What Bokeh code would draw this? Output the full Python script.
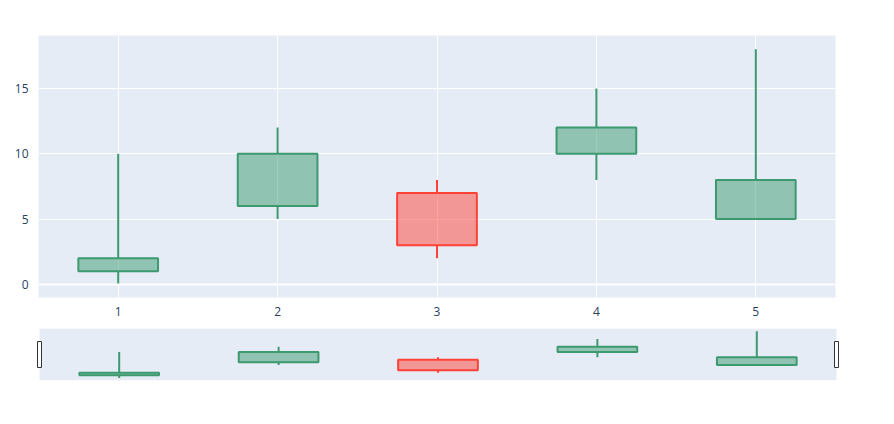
from bokeh.plotting import figure
from bokeh.layouts import column
from bokeh.models import Range1d, FixedTicker, Span, BoxAnnotation, Column
from bokeh.embed import file_html
from bokeh.resources import INLINE

# data
x = [1, 2, 3, 4, 5]
open_ = [1, 6, 7, 10, 5]
high = [10, 12, 8, 15, 18]
low = [0, 5, 2, 8, 5]
close = [2, 10, 3, 12, 8]
y_ticks = [0, 5, 10, 15]

INC = "#3D9970"
DEC = "#FF4136"
BG = "#E5ECF6"
TICK = "#2a3f5f"

top_box = [max(o, c) for o, c in zip(open_, close)]
bot_box = [min(o, c) for o, c in zip(open_, close)]
colors = [INC if c >= o else DEC for o, c in zip(open_, close)]

def draw_candles(p, lw=2):
    p.segment(x0=x, y0=high, x1=x, y1=top_box, line_color=colors, line_width=lw)
    p.segment(x0=x, y0=bot_box, x1=x, y1=low, line_color=colors, line_width=lw)
    p.vbar(x=x, width=0.5, top=top_box, bottom=bot_box, fill_color=colors,
           fill_alpha=0.5, line_color=colors, line_width=lw)

yr = (-1.0, 19.05)

p = figure(width=878, height=320, frame_width=797, frame_height=262,
           output_backend="svg", toolbar_location=None,
           x_range=Range1d(0.5, 5.5), y_range=Range1d(*yr),
           min_border_left=38, min_border_right=43, min_border_top=35, min_border_bottom=23)
p.background_fill_color = BG
p.border_fill_color = "white"
p.outline_line_color = None
p.grid.grid_line_color = "white"
p.grid.grid_line_width = 1
p.xaxis.ticker = FixedTicker(ticks=x)
p.yaxis.ticker = FixedTicker(ticks=y_ticks)
for ax in (p.xaxis, p.yaxis):
    ax.axis_line_color = None
    ax.major_tick_line_color = None
    ax.minor_tick_line_color = None
    ax.major_label_text_color = TICK
    ax.major_label_text_font = "Open Sans"
    ax.major_label_text_font_size = "12px"
p.xaxis.major_label_standoff = 3
p.yaxis.major_label_standoff = 4
p.add_layout(Span(location=0, dimension="width", line_color="white", line_width=2))
draw_candles(p)

s = figure(width=878, height=80, frame_width=813, frame_height=52,
           output_backend="svg", toolbar_location=None,
           x_range=Range1d(0.4498, 5.5502), y_range=Range1d(*yr),
           min_border_left=31, min_border_right=34, min_border_top=8, min_border_bottom=20)
s.background_fill_color = "white"
s.border_fill_color = "white"
s.outline_line_color = None
s.axis.visible = False
s.grid.visible = False
s.add_layout(BoxAnnotation(left=0.5, right=5.5, fill_color=BG, fill_alpha=1.0,
                           line_color=None, level="underlay"))
draw_candles(s)
s.rect(x=[0.5, 5.5], y=[(yr[0] + yr[1]) / 2] * 2, width=4, height=26,
       width_units="screen", height_units="screen",
       fill_color="white", line_color="#333333", line_width=1)

layout = Column(children=[Column(children=[p]), Column(children=[s])], spacing=0)
open("out.html", "w").write(file_html(layout, INLINE))
